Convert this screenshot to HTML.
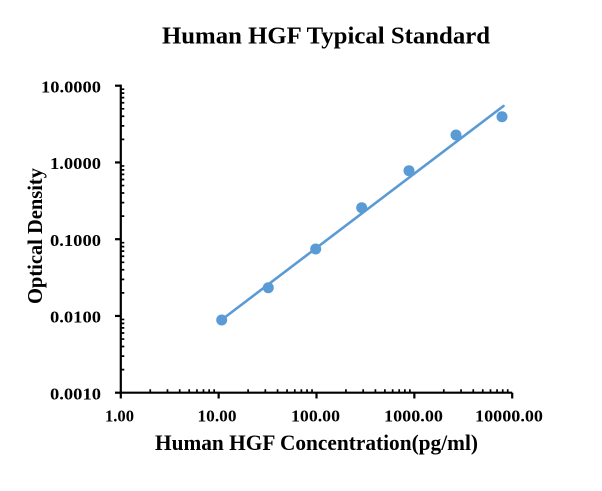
<!DOCTYPE html>
<html>
<head>
<meta charset="utf-8">
<style>
  html, body { margin:0; padding:0; background:#fff; }
  svg { display:block; }
  text { font-family: "Liberation Serif", "Times New Roman", serif; font-weight:bold; fill:#000; }
</style>
</head>
<body>
<svg width="602" height="491" viewBox="0 0 602 491" xmlns="http://www.w3.org/2000/svg">
  <rect width="602" height="491" fill="#fff"/>

  <!-- Title -->
  <text x="162" y="43.5" font-size="24" textLength="328" lengthAdjust="spacingAndGlyphs">Human HGF Typical Standard</text>

  <!-- Axes -->
  <g stroke="#000" stroke-width="2.2" fill="none">
    <line x1="120.8" y1="84.6" x2="120.8" y2="393.8"/>
    <line x1="119.7" y1="392.7" x2="512.2" y2="392.7"/>
    <!-- Y major ticks (outside, left) -->
    <line x1="115" y1="85.7" x2="120.8" y2="85.7"/>
    <line x1="115" y1="162.45" x2="120.8" y2="162.45"/>
    <line x1="115" y1="239.2" x2="120.8" y2="239.2"/>
    <line x1="115" y1="315.95" x2="120.8" y2="315.95"/>
    <line x1="115" y1="392.7" x2="120.8" y2="392.7"/>
    <!-- X major ticks (outside, down) -->
    <line x1="120.8" y1="392.7" x2="120.8" y2="398.5"/>
    <line x1="218.65" y1="392.7" x2="218.65" y2="398.5"/>
    <line x1="316.5" y1="392.7" x2="316.5" y2="398.5"/>
    <line x1="414.35" y1="392.7" x2="414.35" y2="398.5"/>
    <line x1="512.2" y1="392.7" x2="512.2" y2="398.5"/>
  </g>
  <g stroke="#000" stroke-width="1.7" fill="none">
    <!-- Y minor ticks (inside, right) -->
    <path d="
      M120.8 369.6h3.5 M120.8 356.09h3.5 M120.8 346.5h3.5 M120.8 339.05h3.5 M120.8 332.99h3.5 M120.8 327.84h3.5 M120.8 323.39h3.5 M120.8 319.46h3.5
      M120.8 292.85h3.5 M120.8 279.34h3.5 M120.8 269.75h3.5 M120.8 262.3h3.5 M120.8 256.24h3.5 M120.8 251.09h3.5 M120.8 246.64h3.5 M120.8 242.71h3.5
      M120.8 216.1h3.5 M120.8 202.59h3.5 M120.8 193h3.5 M120.8 185.55h3.5 M120.8 179.49h3.5 M120.8 174.34h3.5 M120.8 169.89h3.5 M120.8 165.96h3.5
      M120.8 139.35h3.5 M120.8 125.84h3.5 M120.8 116.25h3.5 M120.8 108.8h3.5 M120.8 102.74h3.5 M120.8 97.59h3.5 M120.8 93.14h3.5 M120.8 89.21h3.5
    "/>
    <!-- X minor ticks (inside, up) -->
    <path d="
      M150.25 392.7v-3.5 M167.48 392.7v-3.5 M179.71 392.7v-3.5 M189.2 392.7v-3.5 M196.95 392.7v-3.5 M203.5 392.7v-3.5 M209.17 392.7v-3.5 M214.18 392.7v-3.5
      M248.1 392.7v-3.5 M265.33 392.7v-3.5 M277.56 392.7v-3.5 M287.05 392.7v-3.5 M294.8 392.7v-3.5 M301.35 392.7v-3.5 M307.02 392.7v-3.5 M312.03 392.7v-3.5
      M345.95 392.7v-3.5 M363.18 392.7v-3.5 M375.41 392.7v-3.5 M384.9 392.7v-3.5 M392.65 392.7v-3.5 M399.2 392.7v-3.5 M404.87 392.7v-3.5 M409.88 392.7v-3.5
      M443.8 392.7v-3.5 M461.03 392.7v-3.5 M473.26 392.7v-3.5 M482.75 392.7v-3.5 M490.5 392.7v-3.5 M497.05 392.7v-3.5 M502.72 392.7v-3.5 M507.73 392.7v-3.5
    "/>
  </g>

  <!-- Y tick labels -->
  <g font-size="16.5" text-anchor="end">
    <text x="101" y="92.5" textLength="60" lengthAdjust="spacingAndGlyphs">10.0000</text>
    <text x="101" y="169.2" textLength="51" lengthAdjust="spacingAndGlyphs">1.0000</text>
    <text x="101" y="246" textLength="51" lengthAdjust="spacingAndGlyphs">0.1000</text>
    <text x="101" y="322.7" textLength="51" lengthAdjust="spacingAndGlyphs">0.0100</text>
    <text x="101" y="399.5" textLength="51" lengthAdjust="spacingAndGlyphs">0.0010</text>
  </g>

  <!-- X tick labels -->
  <g font-size="16.5">
    <text x="105" y="421.3" textLength="29" lengthAdjust="spacingAndGlyphs">1.00</text>
    <text x="197.5" y="421.3" textLength="39" lengthAdjust="spacingAndGlyphs">10.00</text>
    <text x="291" y="421.3" textLength="49" lengthAdjust="spacingAndGlyphs">100.00</text>
    <text x="384" y="421.3" textLength="59" lengthAdjust="spacingAndGlyphs">1000.00</text>
    <text x="475" y="421.3" textLength="68" lengthAdjust="spacingAndGlyphs">10000.00</text>
  </g>

  <!-- Axis titles -->
  <text x="155" y="450" font-size="22" textLength="323" lengthAdjust="spacingAndGlyphs">Human HGF Concentration(pg/ml)</text>
  <text transform="translate(42,236) rotate(-90)" x="0" y="0" font-size="21" text-anchor="middle" textLength="136" lengthAdjust="spacingAndGlyphs">Optical Density</text>

  <!-- Trend line -->
  <line x1="222" y1="319.5" x2="503.5" y2="106" stroke="#5B9BD5" stroke-width="2.6" stroke-linecap="round"/>

  <!-- Data points -->
  <g fill="#5B9BD5">
    <circle cx="221.7" cy="320" r="5.5"/>
    <circle cx="268.3" cy="287.7" r="5.5"/>
    <circle cx="315.7" cy="249" r="5.5"/>
    <circle cx="361.7" cy="207.7" r="5.5"/>
    <circle cx="409" cy="170.7" r="5.5"/>
    <circle cx="456" cy="135" r="5.5"/>
    <circle cx="502" cy="116.7" r="5.5"/>
  </g>
</svg>
</body>
</html>
